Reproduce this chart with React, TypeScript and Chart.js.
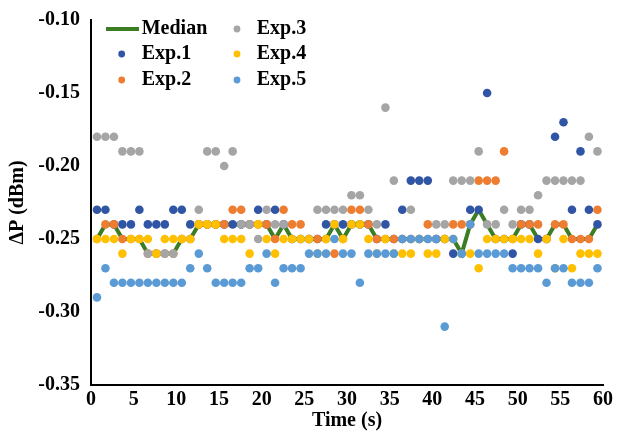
import React, { useEffect, useRef } from "react";
import { Chart, registerables } from "chart.js";

Chart.register(...registerables);

// Sampling times (s), read from the dot columns
const TIME = [
  0.7, 1.69, 2.69, 3.68, 4.68, 5.67, 6.66, 7.66, 8.65, 9.65,
  10.64, 11.63, 12.63, 13.62, 14.62, 15.61, 16.6, 17.6, 18.59, 19.59,
  20.58, 21.57, 22.57, 23.56, 24.56, 25.55, 26.54, 27.54, 28.53, 29.53,
  30.52, 31.51, 32.51, 33.5, 34.5, 35.49, 36.48, 37.48, 38.47, 39.47,
  40.46, 41.45, 42.45, 43.44, 44.44, 45.43, 46.42, 47.42, 48.41, 49.41,
  50.4, 51.39, 52.39, 53.38, 54.38, 55.37, 56.36, 57.36, 58.35, 59.35,
];

const MEDIAN = [
  -0.25, -0.24, -0.24, -0.25, -0.25, -0.25, -0.26, -0.26, -0.26, -0.26,
  -0.25, -0.25, -0.24, -0.24, -0.24, -0.24, -0.24, -0.24, -0.24, -0.24,
  -0.24, -0.25, -0.24, -0.25, -0.25, -0.25, -0.25, -0.25, -0.24, -0.25,
  -0.24, -0.24, -0.24, -0.25, -0.25, -0.25, -0.25, -0.25, -0.25, -0.25,
  -0.25, -0.25, -0.25, -0.26, -0.24, -0.23, -0.24, -0.25, -0.25, -0.25,
  -0.24, -0.24, -0.25, -0.25, -0.24, -0.24, -0.25, -0.25, -0.25, -0.24,
];

const EXP1 = [
  -0.23, -0.23, -0.24, -0.24, -0.24, -0.23, -0.24, -0.24, -0.24, -0.23,
  -0.23, -0.24, -0.24, -0.24, -0.24, -0.24, -0.24, -0.24, -0.24, -0.23,
  -0.24, -0.23, -0.24, -0.25, -0.25, -0.25, -0.25, -0.24, -0.24, -0.24,
  -0.24, -0.24, -0.24, -0.25, -0.24, -0.25, -0.23, -0.21, -0.21, -0.21,
  -0.25, -0.25, -0.26, -0.26, -0.23, -0.23, -0.15, -0.25, -0.25, -0.26,
  -0.24, -0.24, -0.25, -0.25, -0.18, -0.17, -0.23, -0.19, -0.23, -0.24,
];

const EXP2 = [
  -0.25, -0.24, -0.24, -0.25, -0.25, -0.25, -0.26, -0.26, -0.26, -0.26,
  -0.25, -0.25, -0.24, -0.24, -0.24, -0.24, -0.23, -0.23, -0.24, -0.24,
  -0.24, -0.25, -0.23, -0.24, -0.24, -0.25, -0.25, -0.25, -0.26, -0.25,
  -0.23, -0.23, -0.24, -0.25, -0.25, -0.25, -0.25, -0.25, -0.25, -0.24,
  -0.25, -0.25, -0.24, -0.24, -0.24, -0.21, -0.21, -0.21, -0.19, -0.25,
  -0.24, -0.24, -0.24, -0.25, -0.24, -0.24, -0.25, -0.25, -0.25, -0.23,
];

const EXP3 = [
  -0.18, -0.18, -0.18, -0.19, -0.19, -0.19, -0.26, -0.26, -0.26, -0.26,
  -0.25, -0.25, -0.23, -0.19, -0.19, -0.2, -0.19, -0.24, -0.24, -0.25,
  -0.23, -0.24, -0.24, -0.25, -0.25, -0.25, -0.23, -0.23, -0.23, -0.23,
  -0.22, -0.22, -0.23, -0.24, -0.16, -0.21, -0.25, -0.23, -0.25, -0.25,
  -0.24, -0.24, -0.21, -0.21, -0.21, -0.19, -0.24, -0.24, -0.23, -0.24,
  -0.23, -0.23, -0.22, -0.21, -0.21, -0.21, -0.21, -0.21, -0.18, -0.19,
];

const EXP4 = [
  -0.25, -0.25, -0.25, -0.26, -0.25, -0.25, -0.25, -0.26, -0.25, -0.25,
  -0.25, -0.25, -0.24, -0.24, -0.24, -0.25, -0.25, -0.25, -0.26, -0.24,
  -0.25, -0.26, -0.25, -0.25, -0.25, -0.25, -0.26, -0.25, -0.24, -0.25,
  -0.24, -0.24, -0.25, -0.26, -0.25, -0.26, -0.26, -0.26, -0.25, -0.26,
  -0.26, -0.25, -0.25, -0.26, -0.26, -0.27, -0.25, -0.25, -0.25, -0.25,
  -0.25, -0.25, -0.26, -0.25, -0.27, -0.25, -0.27, -0.26, -0.26, -0.26,
];

const EXP5 = [
  -0.29, -0.27, -0.28, -0.28, -0.28, -0.28, -0.28, -0.28, -0.28, -0.28,
  -0.28, -0.27, -0.26, -0.27, -0.28, -0.28, -0.28, -0.28, -0.27, -0.27,
  -0.26, -0.28, -0.27, -0.27, -0.27, -0.26, -0.26, -0.26, -0.25, -0.26,
  -0.26, -0.28, -0.26, -0.26, -0.26, -0.26, -0.25, -0.25, -0.25, -0.25,
  -0.25, -0.31, -0.25, -0.26, -0.24, -0.26, -0.26, -0.26, -0.26, -0.27,
  -0.27, -0.27, -0.27, -0.28, -0.27, -0.27, -0.28, -0.28, -0.28, -0.27,
];

const SERIES_NAMES = ["Exp.1", "Exp.2", "Exp.3", "Exp.4", "Exp.5"];
const SERIES_COLORS = ["#2F55A4", "#ED7D31", "#A5A5A5", "#FFC000", "#5B9BD5"];
const MEDIAN_COLOR = "#3B7D23";

const FONT = '"Liberation Serif", "Times New Roman", serif';

export default function App() {
  const ref = useRef<HTMLCanvasElement | null>(null);

  useEffect(() => {
    document.documentElement.style.overflow = "hidden";
    const canvas = ref.current;
    if (!canvas) return;

    const pts = (ys: number[]) => TIME.map((t, i) => ({ x: t, y: ys[i] }));
    const expData = [EXP1, EXP2, EXP3, EXP4, EXP5];

    const legendPlugin = {
      id: "insideLegend",
      afterDraw(chart: any) {
        const { ctx, chartArea } = chart;
        const left = chartArea.left;
        const top = chartArea.top;
        ctx.save();
        ctx.font = `bold 20px ${FONT}`;
        ctx.textBaseline = "middle";
        ctx.textAlign = "left";
        ctx.fillStyle = "#000";
        const rows = [top + 9, top + 34, top + 60];
        ctx.strokeStyle = MEDIAN_COLOR;
        ctx.lineWidth = 4;
        ctx.beginPath();
        ctx.moveTo(left + 15, rows[0]);
        ctx.lineTo(left + 48, rows[0]);
        ctx.stroke();
        ctx.fillText("Median", left + 50.7, rows[0]);
        const items = [
          { i: 0, dx: 30.7, tx: 50.7, r: 1 },
          { i: 1, dx: 30.7, tx: 50.7, r: 2 },
          { i: 2, dx: 146, tx: 165.7, r: 0 },
          { i: 3, dx: 146, tx: 165.7, r: 1 },
          { i: 4, dx: 146, tx: 165.7, r: 2 },
        ];
        for (const it of items) {
          ctx.fillStyle = SERIES_COLORS[it.i];
          ctx.beginPath();
          ctx.arc(left + it.dx, rows[it.r], 3.4, 0, Math.PI * 2);
          ctx.fill();
          ctx.fillStyle = "#000";
          ctx.fillText(SERIES_NAMES[it.i], left + it.tx, rows[it.r]);
        }
        ctx.restore();
      },
    };

    const datasets: any[] = [
      {
        type: "line",
        label: "Median",
        data: pts(MEDIAN),
        borderColor: MEDIAN_COLOR,
        backgroundColor: MEDIAN_COLOR,
        borderWidth: 4,
        pointRadius: 0,
        showLine: true,
        fill: false,
        tension: 0,
        order: 6,
      },
      ...expData.map((d, i) => ({
        type: "scatter",
        label: SERIES_NAMES[i],
        data: pts(d),
        backgroundColor: SERIES_COLORS[i],
        borderColor: SERIES_COLORS[i],
        borderWidth: 0,
        pointRadius: 4.3,
        pointHoverRadius: 4.3,
        showLine: false,
        order: 5 - i,
      })),
    ];

    const tickFont = { family: FONT, size: 20, weight: "bold" as const, lineHeight: 1 };

    const chart = new Chart(canvas, {
      type: "scatter",
      data: { datasets },
      options: {
        animation: false,
        responsive: false,
        maintainAspectRatio: false,
        events: [],
        layout: { padding: { left: 0, right: 16, top: 12, bottom: 3 } },
        plugins: {
          legend: { display: false },
          tooltip: { enabled: false },
        },
        scales: {
          x: {
            type: "linear",
            min: 0,
            max: 60,
            grid: { display: false, drawTicks: false },
            border: { display: true, color: "#000", width: 2 },
            ticks: { stepSize: 5, font: tickFont, color: "#000", padding: 5 },
            title: {
              display: true,
              text: "Time (s)",
              font: tickFont,
              color: "#000",
              padding: { top: 1, bottom: 0 },
            },
            afterFit: (axis: any) => {
              axis.height = 46;
            },
          },
          y: {
            type: "linear",
            min: -0.35,
            max: -0.1,
            grid: { display: false, drawTicks: false },
            border: { display: true, color: "#000", width: 2 },
            ticks: {
              stepSize: 0.05,
              font: tickFont,
              color: "#000",
              padding: 11,
              callback: (v: any) => Number(v).toFixed(2),
            },
            title: {
              display: true,
              text: "ΔP (dBm)",
              font: tickFont,
              color: "#000",
              padding: { top: 0, bottom: 0 },
            },
            afterFit: (axis: any) => {
              axis.width = 83;
              axis.paddingTop = 0;
              axis.paddingBottom = 0;
            },
          },
        },
      },
      plugins: [legendPlugin],
    } as any);

    return () => chart.destroy();
  }, []);

  return (
    <div style={{ position: "relative", width: 611, height: 426 }}>
      <canvas
        ref={ref}
        width={611}
        height={426}
        style={{ display: "block", width: 611, height: 426 }}
      />
    </div>
  );
}
